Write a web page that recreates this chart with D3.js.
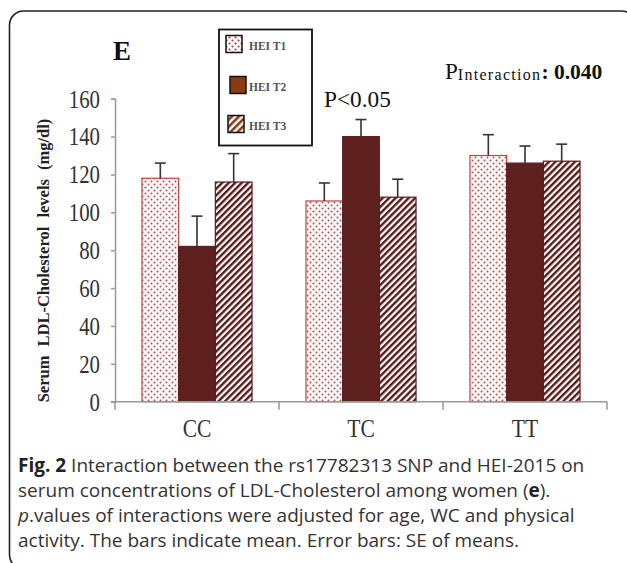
<!DOCTYPE html>
<html>
<head>
<meta charset="utf-8">
<script src="https://cdn.jsdelivr.net/npm/d3@7"></script>
<style>
  body { margin: 0; background: #fff; }
  svg { display: block; }
  .serif { font-family: "Liberation Serif", "Times New Roman", serif; }
  .caption { font-family: "Open Sans", "Noto Sans", sans-serif; fill: #333; }
</style>
</head>
<body>
<script>
const categories = ['CC', 'TC', 'TT']
const series = ['HEI T1', 'HEI T2', 'HEI T3']

// means per genotype (CC, TC, TT)
const meanT1 = [118, 106, 130]
const meanT2 = [82, 140, 126]
const meanT3 = [116, 108, 127]

// standard errors
const seT1 = [8, 9.5, 11]
const seT2 = [16, 9, 9]
const seT3 = [15, 9.5, 9]

const yTicks = [0, 20, 40, 60, 80, 100, 120, 140, 160]

const captionLines = [
  ['Fig. 2', ' Interaction between the rs17782313 SNP and HEI-2015 on'],
  ['', 'serum concentrations of LDL-Cholesterol among women (', 'e', ').'],
  ['', 'p', '.values of interactions were adjusted for age, WC and physical'],
  ['', 'activity. The bars indicate mean. Error bars: SE of means.']
]

const means = [meanT1, meanT2, meanT3]
const ses = [seT1, seT2, seT3]
const data = []
categories.forEach((c, i) => {
  series.forEach((s, j) => {
    data.push({ cat: c, series: s, idx: j, mean: means[j][i], se: ses[j][i] })
  })
})

const width = 627
const height = 563

const svg = d3.select('body')
  .append('svg')
  .attr('width', width)
  .attr('height', height)

// squeeze a text horizontally, like the narrow serif of the original
function condense(sel, f) {
  sel.each(function () {
    const w = this.getComputedTextLength()
    d3.select(this).attr('textLength', w * f).attr('lengthAdjust', 'spacingAndGlyphs')
  })
}

// patterns
const defs = svg.append('defs')

const dots = defs.append('pattern')
  .attr('id', 'dots')
  .attr('patternUnits', 'userSpaceOnUse')
  .attr('width', 6)
  .attr('height', 6)
dots.append('rect').attr('width', 6).attr('height', 6).attr('fill', '#fbf6f6')
dots.append('circle').attr('cx', 1.5).attr('cy', 1.5).attr('r', 1).attr('fill', '#a65c5c')
dots.append('circle').attr('cx', 4.5).attr('cy', 4.5).attr('r', 1).attr('fill', '#a65c5c')

const stripes = defs.append('pattern')
  .attr('id', 'stripes')
  .attr('patternUnits', 'userSpaceOnUse')
  .attr('width', 4.6)
  .attr('height', 4.6)
  .attr('patternTransform', 'rotate(45)')
stripes.append('rect').attr('width', 4.6).attr('height', 4.6).attr('fill', '#fff')
stripes.append('rect').attr('width', 2.4).attr('height', 4.6).attr('fill', '#5a1a1a')

const dotsLegend = defs.append('pattern')
  .attr('id', 'dotsLegend')
  .attr('patternUnits', 'userSpaceOnUse')
  .attr('width', 6)
  .attr('height', 6)
dotsLegend.append('rect').attr('width', 6).attr('height', 6).attr('fill', '#fff')
dotsLegend.append('circle').attr('cx', 1.5).attr('cy', 1.5).attr('r', 1.1).attr('fill', '#b04040')
dotsLegend.append('circle').attr('cx', 4.5).attr('cy', 4.5).attr('r', 1.1).attr('fill', '#b04040')

const stripesLegend = defs.append('pattern')
  .attr('id', 'stripesLegend')
  .attr('patternUnits', 'userSpaceOnUse')
  .attr('width', 5)
  .attr('height', 5)
  .attr('patternTransform', 'rotate(45)')
stripesLegend.append('rect').attr('width', 5).attr('height', 5).attr('fill', '#fff')
stripesLegend.append('rect').attr('width', 2.6).attr('height', 5).attr('fill', '#8b3a12')

const barFill = ['url(#dots)', '#5f2120', 'url(#stripes)']
const barStroke = ['#c04545', '#5f2120', '#5a1a1a']
const legendFill = ['url(#dotsLegend)', '#8b3a12', 'url(#stripesLegend)']

// frame
svg.append('rect')
  .attr('x', 9.5)
  .attr('y', 11)
  .attr('width', 626)
  .attr('height', 558)
  .attr('rx', 14)
  .attr('fill', 'none')
  .attr('stroke', '#222')
  .attr('stroke-width', 1.6)

// scales
const x0 = d3.scaleBand()
  .domain(categories)
  .range([115, 607])
  .padding(0)

const x1 = d3.scaleBand()
  .domain(series)
  .range([0, x0.bandwidth()])
  .paddingInner(0)
  .paddingOuter(0.735)

const y = d3.scaleLinear()
  .domain([0, 160])
  .range([401.7, 98.7])

// y axis
const yAxis = svg.append('g')
  .attr('transform', 'translate(115,0)')
  .call(d3.axisLeft(y).tickValues(yTicks).tickSize(4).tickPadding(11))
yAxis.select('.domain').attr('stroke', '#999').attr('stroke-width', 1.5)
yAxis.selectAll('.tick line').attr('stroke', '#999').attr('stroke-width', 1.5)
yAxis.selectAll('.tick text')
  .attr('class', 'serif')
  .style('font-size', '26px')
  .attr('fill', '#333')
  .call(condense, 0.8)

// bars
const bars = svg.append('g')
bars.selectAll('rect')
  .data(data)
  .enter()
  .append('rect')
  .attr('x', d => x0(d.cat) + x1(d.series))
  .attr('y', d => y(d.mean))
  .attr('width', x1.bandwidth())
  .attr('height', d => y(0) - y(d.mean))
  .attr('fill', d => barFill[d.idx])
  .attr('stroke', d => barStroke[d.idx])
  .attr('stroke-width', 1.2)

// error bars
const err = svg.append('g')
  .attr('stroke', '#333')
  .attr('stroke-width', 1.6)
err.selectAll('line.v')
  .data(data)
  .enter()
  .append('line')
  .attr('class', 'v')
  .attr('x1', d => x0(d.cat) + x1(d.series) + x1.bandwidth() / 2)
  .attr('x2', d => x0(d.cat) + x1(d.series) + x1.bandwidth() / 2)
  .attr('y1', d => y(d.mean))
  .attr('y2', d => y(d.mean + d.se))
err.selectAll('line.cap')
  .data(data)
  .enter()
  .append('line')
  .attr('class', 'cap')
  .attr('x1', d => x0(d.cat) + x1(d.series) + x1.bandwidth() / 2 - 5.5)
  .attr('x2', d => x0(d.cat) + x1(d.series) + x1.bandwidth() / 2 + 5.5)
  .attr('y1', d => y(d.mean + d.se))
  .attr('y2', d => y(d.mean + d.se))

// x axis
const xAxis = svg.append('g')
  .attr('transform', `translate(0,${y(0)})`)
  .call(d3.axisBottom(x0).tickSize(0).tickPadding(17.5))
xAxis.select('.domain').remove()
xAxis.selectAll('.tick text')
  .attr('class', 'serif')
  .style('font-size', '25px')
  .attr('fill', '#333')
  .call(condense, 0.86)
xAxis.append('line')
  .attr('x1', 111)
  .attr('x2', x0.range()[1])
  .attr('stroke', '#999')
  .attr('stroke-width', 1.5)
xAxis.selectAll('line.bound')
  .data(categories.map(c => x0(c)).concat([x0.range()[1]]))
  .enter()
  .append('line')
  .attr('class', 'bound')
  .attr('x1', d => d)
  .attr('x2', d => d)
  .attr('y1', 0)
  .attr('y2', 8)
  .attr('stroke', '#999')
  .attr('stroke-width', 1.5)

// y axis title
svg.append('text')
  .attr('class', 'serif')
  .attr('transform', `translate(49,${(113 + 408) / 2}) rotate(-90)`)
  .attr('text-anchor', 'middle')
  .style('font-size', '16.5px')
  .style('font-weight', 'bold')
  .attr('fill', '#222')
  .style('word-spacing', '5px')
  .text('Serum LDL-Cholesterol levels (mg/dl)')

// panel letter
svg.append('text')
  .attr('class', 'serif')
  .attr('x', 122)
  .attr('y', 60)
  .attr('text-anchor', 'middle')
  .style('font-size', '27px')
  .style('font-weight', 'bold')
  .attr('fill', '#111')
  .text('E')

// annotations
svg.append('text')
  .attr('class', 'serif')
  .attr('x', 324)
  .attr('y', 107)
  .style('font-size', '24px')
  .attr('fill', '#111')
  .text('P<0.05')
  .call(condense, 0.97)

const pi = svg.append('text')
  .attr('class', 'serif')
  .attr('x', 445)
  .attr('y', 79)
  .attr('fill', '#111')
pi.append('tspan').style('font-size', '23px').text('P')
pi.append('tspan').style('font-size', '16px').style('letter-spacing', '1.3px').attr('dy', 1).text('Interaction')
pi.append('tspan').style('font-size', '21.5px').style('font-weight', 'bold').attr('dy', -1).text(': 0.040')

// legend
const legend = svg.append('g')
legend.append('rect')
  .attr('x', 219)
  .attr('y', 29.5)
  .attr('width', 93)
  .attr('height', 116)
  .attr('fill', '#fff')
  .attr('stroke', '#111')
  .attr('stroke-width', 1.8)

const legendY = [44, 85, 124]
const legendX = [226, 230, 228]
const item = legend.selectAll('g.item')
  .data(series)
  .enter()
  .append('g')
  .attr('class', 'item')
item.append('rect')
  .attr('x', (d, i) => legendX[i])
  .attr('y', (d, i) => legendY[i] - 8.5)
  .attr('width', 16)
  .attr('height', 17)
  .attr('fill', (d, i) => legendFill[i])
  .attr('stroke', '#111')
  .attr('stroke-width', 1.5)
item.append('text')
  .attr('class', 'serif')
  .attr('x', 249)
  .attr('y', (d, i) => legendY[i] + 2)
  .attr('dominant-baseline', 'central')
  .style('font-size', '11.5px')
  .style('font-weight', 'bold')
  .attr('fill', '#555')
  .text(d => d)

// caption
const caption = svg.append('g').attr('class', 'caption')
captionLines.forEach((parts, i) => {
  const t = caption.append('text')
    .attr('x', 18)
    .attr('y', 472 + i * 25)
    .style('font-size', '19px')
  parts.forEach((p, k) => {
    if (p === '') return
    const span = t.append('tspan').text(p)
    if (i === 0 && k === 0) span.style('font-weight', 'bold').attr('fill', '#222')
    if (i === 1 && k === 2) span.style('font-weight', 'bold').attr('fill', '#222')
    if (i === 2 && k === 1) span.style('font-style', 'italic')
  })
})
</script>
</body>
</html>
